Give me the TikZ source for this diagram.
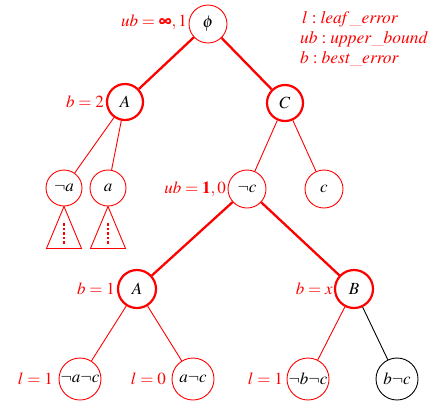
\documentclass[tikz,border=0pt]{standalone}
\usepackage{mathptmx}
\usepackage{bm}
\begin{document}
\begin{tikzpicture}[x=1pt,y=-1pt,
  every node/.style={font=\fontsize{17}{20}\selectfont},
  tn/.style={circle,draw=red,line width=0.9pt,minimum size=36pt,inner sep=0pt},
  tnb/.style={tn,line width=2.2pt},
  tnl/.style={tn,minimum size=42pt},
  lab/.style={text=red,inner sep=0pt,anchor=east},
  leg/.style={text=red,inner sep=0pt,anchor=base west,font=\fontsize{17.5}{21}\selectfont},
  thin/.style={draw=red,line width=0.9pt},
  thk/.style={draw=red,line width=2.3pt},
  tri/.style={draw=red,line width=0.9pt,line join=miter},
  dots/.style={draw=red,line width=2.8pt,dash pattern=on 2.5pt off 2pt}]
\useasboundingbox (0,0) rectangle (433,408);
% nodes
\node[tn,minimum size=38pt] (phi) at (208,24) {$\phi$};
\node[tnb] (A1) at (125,102) {$A$};
\node[tnb] (C) at (285,103) {$C$};
\node[tn] (na) at (64,188) {$\neg a$};
\node[tn] (a) at (108,188) {$a$};
\node[tn,minimum size=38pt] (nc) at (247,189) {$\neg c$};
\node[tn,minimum size=38pt] (c) at (324,189) {$c$};
\node[tnb,minimum size=38pt] (A2) at (137,289) {$A$};
\node[tnb,minimum size=38pt] (B) at (354,289) {$B$};
\node[tnl] (nanc) at (80,379) {$\neg a\neg c$};
\node[tnl] (anc) at (193,379) {$a\neg c$};
\node[tnl] (nbnc) at (308,379) {$\neg b\neg c$};
\node[tnl,draw=black] (bnc) at (397,379) {$b\neg c$};
% edges
\draw[thk] (phi) -- (A1);
\draw[thk] (phi) -- (C);
\draw[thin] (A1) -- (na);
\draw[thin] (A1) -- (a);
\draw[thin] (C) -- (nc);
\draw[thin] (C) -- (c);
\draw[thk] (nc) -- (A2);
\draw[thk] (nc) -- (B);
\draw[thin] (A2) -- (nanc);
\draw[thin] (A2) -- (anc);
\draw[thin] (B) -- (nbnc);
\draw[black,line width=0.9pt] (B) -- (bnc);
% triangles
\draw[tri] (na.south) -- ++(-17.5,42) -- ++(35,0) -- cycle;
\draw[dots] ([yshift=-17pt]na.south) -- ++(0,21);
\draw[tri] (a.south) -- ++(-17.5,42) -- ++(35,0) -- cycle;
\draw[dots] ([yshift=-17pt]a.south) -- ++(0,21);
% labels
\node[lab] (lphi) at (187,22) {$ub=\bm{\infty},1$};
\node[lab] (lA1) at (104,102) {$b=2$};
\node[lab] (lnc) at (226,189) {$ub=\mathbf{1},0$};
\node[lab] (lA2) at (115,289) {$b=1$};
\node[lab] (lB) at (333,289) {$b=x$};
\node[lab] (lnanc) at (53,379) {$l=1$};
\node[lab] (lanc) at (166,379) {$l=0$};
\node[lab] (lnbnc) at (283,379) {$l=1$};
% legend
\node[leg] (g1) at (302,23) {$l:\mathit{leaf\_error}$};
\node[leg] (g2) at (300,43) {$ub:\mathit{upper\_bound}$};
\node[leg] (g3) at (300,63) {$b:\mathit{best\_error}$};
\end{tikzpicture}
\end{document}
